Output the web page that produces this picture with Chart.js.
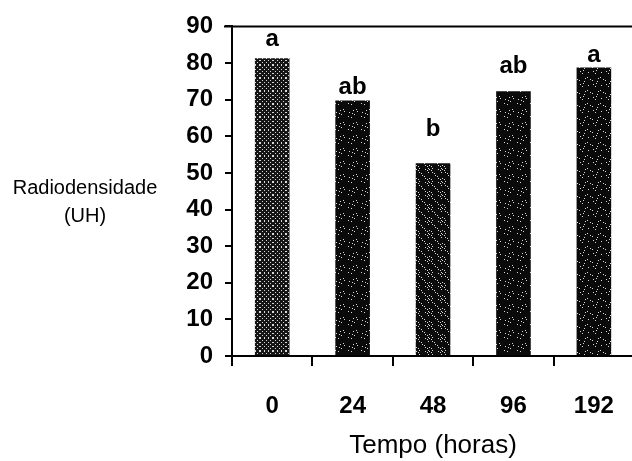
<!DOCTYPE html>
<html>
<head>
<meta charset="utf-8">
<script src="https://cdn.jsdelivr.net/npm/chart.js@4/dist/chart.umd.min.js"></script>
<style>
  html, body { margin: 0; padding: 0; background: #fff; overflow: hidden; }
</style>
</head>
<body>
<canvas id="bar-chart" width="640" height="461"></canvas>
<script>
// data
const timeLabels = ['0', '24', '48', '96', '192'];
const radiodensity = [81.3, 69.8, 52.6, 72.3, 78.8];
const groupLetters = ['a', 'ab', 'b', 'ab', 'a'];
const letterLevels = [86.4, 73.4, 62, 79.1, 82]; // where the letters sit, axis units
const yTicks = [0, 10, 20, 30, 40, 50, 60, 70, 80, 90];

/** speckled fill like the scanned bars */
function speckle(base, every) {
  const c = document.createElement('canvas');
  c.width = 13; c.height = 13;
  const g = c.getContext('2d');
  g.fillStyle = base;
  g.fillRect(0, 0, 13, 13);
  g.fillStyle = '#d8d8d8';
  for (let i = 0; i < 13; i++) {
    for (let j = 0; j < 13; j++) {
      if ((i * 7 + j * 11 + i * j) % every === 0) g.fillRect(i, j, 1, 1);
    }
  }
  return g.createPattern(c, 'repeat');
}

const font = "'Liberation Sans', Arial, sans-serif";

const extras = {
  id: 'extras',
  afterDraw(chart) {
    const ctx = chart.ctx;
    const area = chart.chartArea;
    const y = chart.scales.y;
    ctx.save();
    // top frame line
    ctx.strokeStyle = '#000';
    ctx.lineWidth = 2;
    ctx.beginPath();
    ctx.moveTo(area.left - 8, area.top);
    ctx.lineTo(area.right, area.top);
    ctx.stroke();
    // letters over bars
    ctx.fillStyle = '#000';
    ctx.textAlign = 'center';
    ctx.textBaseline = 'middle';
    ctx.font = 'bold 24px ' + font;
    chart.getDatasetMeta(0).data.forEach((bar, i) => {
      ctx.fillText(groupLetters[i], bar.x, y.getPixelForValue(letterLevels[i]));
    });
    // y title, not rotated
    ctx.font = '20px ' + font;
    ctx.fillText('Radiodensidade', 85, 188);
    ctx.fillText('(UH)', 85, 216);
    ctx.restore();
  }
};

new Chart(document.getElementById('bar-chart'), {
  type: 'bar',
  data: {
    labels: timeLabels,
    datasets: [{
      data: radiodensity,
      backgroundColor: [speckle('#151515', 4), speckle('#0a0a0a', 23), speckle('#0c0c0c', 9), speckle('#0a0a0a', 23), speckle('#0a0a0a', 17)],
      borderWidth: 0,
      barPercentage: 0.43,
      categoryPercentage: 1
    }]
  },
  options: {
    responsive: false,
    animation: false,
    devicePixelRatio: 1,
    layout: { padding: { top: 24, right: 1, left: 0, bottom: 0 } },
    plugins: { legend: { display: false }, tooltip: { enabled: false } },
    scales: {
      x: {
        offset: true,
        grid: { offset: true, drawOnChartArea: false, drawTicks: true, tickLength: 10, color: '#000', lineWidth: 2 },
        border: { color: '#000', width: 2 },
        ticks: { color: '#000', padding: 26, font: { family: font, size: 24, weight: 'bold' } },
        title: { display: true, text: 'Tempo (horas)', color: '#000', font: { family: font, size: 26 }, padding: { top: 0, bottom: 0 } },
        afterFit(scale) { scale.height = 105; }
      },
      y: {
        min: 0,
        max: 90,
        afterBuildTicks(scale) { scale.ticks = yTicks.map(v => ({ value: v })); },
        grid: { drawOnChartArea: false, drawTicks: true, tickLength: 7, color: '#000', lineWidth: 2 },
        border: { color: '#000', width: 2 },
        ticks: { color: '#000', padding: 12, font: { family: font, size: 24, weight: 'bold' } },
        afterFit(scale) { scale.width = 232; }
      }
    }
  },
  plugins: [extras]
});
</script>
</body>
</html>
